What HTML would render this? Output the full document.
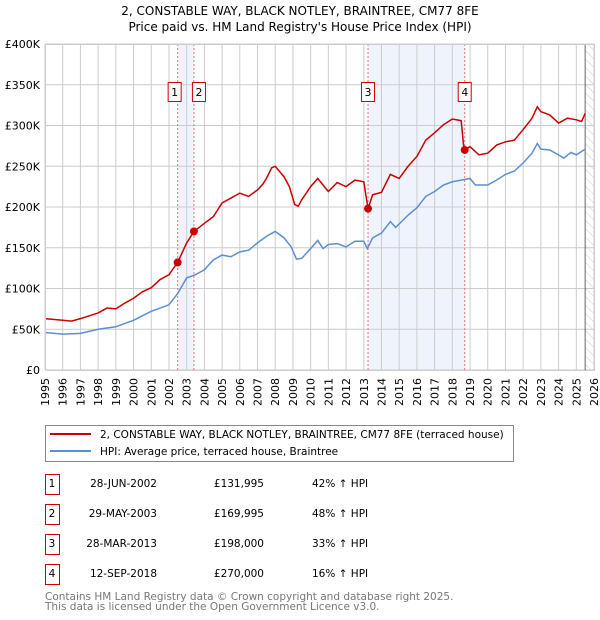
<!DOCTYPE html>
<html><head><meta charset="utf-8"><style>
body{margin:0;background:#fff;}
svg{display:block;font-family:"DejaVu Sans","Liberation Sans",sans-serif;}
</style></head><body>
<svg id="chart" width="600" height="620" viewBox="0 0 600 620">
<defs><pattern id="hatch" width="6" height="6" patternUnits="userSpaceOnUse" patternTransform="rotate(-45)"><line x1="0" y1="0" x2="0" y2="6" stroke="#ccc" stroke-width="1"/></pattern></defs>
<text x="300" y="15" text-anchor="middle" font-size="12">2, CONSTABLE WAY, BLACK NOTLEY, BRAINTREE, CM77 8FE</text>
<text x="300" y="31" text-anchor="middle" font-size="12">Price paid vs. HM Land Registry's House Price Index (HPI)</text>
<g id="plot"></g>
<g>
<rect x="45.5" y="425.5" width="468" height="36" fill="#fff" stroke="#888"/>
<line x1="50" y1="434" x2="91" y2="434" stroke="#cc0000" stroke-width="2"/>
<text x="100" y="438" font-size="10.5">2, CONSTABLE WAY, BLACK NOTLEY, BRAINTREE, CM77 8FE (terraced house)</text>
<line x1="50" y1="451" x2="91" y2="451" stroke="#5b8fd1" stroke-width="2"/>
<text x="100" y="455" font-size="10.5">HPI: Average price, terraced house, Braintree</text>
</g>
<g id="table" font-size="10.5"></g>
<text x="45" y="600" font-size="10.5" fill="#777">Contains HM Land Registry data © Crown copyright and database right 2025.</text>
<text x="45" y="610" font-size="10.5" fill="#777">This data is licensed under the Open Government Licence v3.0.</text>
</svg>
<script>
const yearTicks=[1995,1996,1997,1998,1999,2000,2001,2002,2003,2004,2005,2006,2007,2008,2009,2010,2011,2012,2013,2014,2015,2016,2017,2018,2019,2020,2021,2022,2023,2024,2025,2026];
const valueTicks=[0,50,100,150,200,250,300,350,400];
const valueTickLabels=["£0","£50K","£100K","£150K","£200K","£250K","£300K","£350K","£400K"];
const redT=[1995,1996,1996.5,1997,1998,1998.5,1999,1999.5,2000,2000.5,2001,2001.5,2002,2002.49,2003,2003.41,2004,2004.5,2005,2005.5,2006,2006.5,2007,2007.3,2007.5,2007.8,2008,2008.5,2008.8,2009.1,2009.3,2009.5,2010,2010.4,2011,2011.5,2012,2012.5,2013,2013.24,2013.5,2014,2014.5,2015,2015.5,2016,2016.5,2017,2017.5,2018,2018.5,2018.66,2019,2019.5,2020,2020.5,2021,2021.5,2022,2022.5,2022.8,2023,2023.5,2024,2024.5,2025,2025.3,2025.5];
const redV=[63,61,60,63,70,76,75,82,88,96,101,111,117,132,156,170,180,188,205,211,217,213,221,228,235,248,250,237,225,203,201,209,225,235,219,230,225,233,231,198,215,218,240,235,250,262,282,291,301,308,306,270,274,264,266,276,280,282,295,309,323,317,313,303,309,307,305,315];
const blueT=[1995,1996,1997,1998,1999,2000,2001,2002,2002.5,2003,2003.5,2004,2004.5,2005,2005.5,2006,2006.5,2007,2007.5,2008,2008.5,2008.9,2009.2,2009.5,2010,2010.4,2010.7,2011,2011.5,2012,2012.5,2013,2013.2,2013.5,2014,2014.5,2014.8,2015.5,2016,2016.5,2017,2017.5,2018,2018.5,2019,2019.3,2020,2020.5,2021,2021.5,2022,2022.5,2022.8,2023,2023.5,2024,2024.3,2024.7,2025,2025.5];
const blueV=[46,44,45,50,53,61,72,80,94,113,117,123,135,141,139,145,147,156,164,170,162,151,136,137,149,159,149,154,155,151,158,158,149,162,168,182,175,190,199,213,219,227,231,233,235,227,227,233,240,244,254,266,278,271,270,264,260,267,264,271];
const saleLabels=["1","2","3","4"];
const saleT=[2002.49,2003.41,2013.24,2018.70];
const saleV=[131.995,169.995,198,270];
const saleDates=["28-JUN-2002","29-MAY-2003","28-MAR-2013","12-SEP-2018"];
const salePrices=["£131,995","£169,995","£198,000","£270,000"];
const saleHpi=["42% ↑ HPI","48% ↑ HPI","33% ↑ HPI","16% ↑ HPI"];

const NS="http://www.w3.org/2000/svg";
const X0=45,X1=594,Y0=370,Y1=44;
const x=t=>X0+(t-1995)/(2026-1995)*(X1-X0);
const y=v=>Y0-v/400*(Y0-Y1);
function mk(tag,attrs,parent){const e=document.createElementNS(NS,tag);for(const k in attrs)e.setAttribute(k,attrs[k]);parent.appendChild(e);return e;}
const plot=document.getElementById('plot');
for(let i=0;i<4;i+=2){
 const r=mk('rect',{x:x(saleT[i]),y:Y1,width:x(saleT[i+1])-x(saleT[i]),height:Y0-Y1,fill:'#eef3fc'},plot);
 
 
}
const hatch=mk('rect',{x:x(2025.5),y:Y1,width:X1-x(2025.5),height:Y0-Y1,fill:'url(#hatch)'},plot);


yearTicks.forEach(t=>{
 const l=mk('line',{x1:x(t),x2:x(t),y1:Y1,y2:Y0,stroke:'#ccc','stroke-width':1},plot);
 
 
 const tx=mk('text',{x:0,y:0,'font-size':11,'text-anchor':'end',transform:`translate(${x(t)+4},${Y0+8}) rotate(-90)`},plot);
 tx.textContent=t;
 
 
});
valueTicks.forEach((v,i)=>{
 const l=mk('line',{x1:X0,x2:X1,y1:y(v),y2:y(v),stroke:'#ccc','stroke-width':1},plot);
 
 
 const tx=mk('text',{x:40,y:y(v)+4,'font-size':11,'text-anchor':'end'},plot);
 tx.textContent=valueTickLabels[i];
 
 
});
const cut=mk('line',{x1:x(2025.5),x2:x(2025.5),y1:Y1,y2:Y0,stroke:'#666','stroke-width':1},plot);


saleT.forEach((t,i)=>{
 const l=mk('line',{x1:x(t),x2:x(t),y1:Y1,y2:Y0,stroke:'#f07070','stroke-width':1,'stroke-dasharray':'2,2'},plot);
 
 
});
const bl=mk('polyline',{points:blueT.map((t,i)=>x(t)+','+y(blueV[i])).join(' '),fill:'none',stroke:'#5b8fd1','stroke-width':1.5},plot);


const rl=mk('polyline',{points:redT.map((t,i)=>x(t)+','+y(redV[i])).join(' '),fill:'none',stroke:'#cc0000','stroke-width':1.5},plot);


saleT.forEach((t,i)=>{
 const c=mk('circle',{cx:x(t),cy:y(saleV[i]),r:4,fill:'#cc0000'},plot);
 
 
 const bx=[x(t)-10,x(t)-2,x(t)-7,x(t)-7][i];
 const b=mk('rect',{x:bx+0.5,y:82.5,width:13,height:19,fill:'#fff',stroke:'#cc0000'},plot);
 
 
 const tx=mk('text',{x:bx+7,y:96,'font-size':11,'text-anchor':'middle'},plot);
 tx.textContent=saleLabels[i];
 
 
});
const frame=mk('rect',{x:X0+0.5,y:Y1+0.5,width:X1-X0,height:Y0-Y1,fill:'none',stroke:'#ccc'},plot);


const tb=document.getElementById('table');
saleLabels.forEach((s,i)=>{
 const cy=485+i*30;
 const b=mk('rect',{x:45.5,y:cy-10.5,width:14,height:20,fill:'#fff',stroke:'#cc0000'},tb);
 
 
 const n=mk('text',{x:52,y:cy+2,'text-anchor':'middle'},tb);n.textContent=s;
 
 
 const d=mk('text',{x:157,y:cy+2,'text-anchor':'end'},tb);d.textContent=saleDates[i];
 
 
 const p=mk('text',{x:264,y:cy+2,'text-anchor':'end'},tb);p.textContent=salePrices[i];
 
 
 const h=mk('text',{x:312,y:cy+2},tb);h.textContent=saleHpi[i];
 
 
});
</script>
</body></html>
